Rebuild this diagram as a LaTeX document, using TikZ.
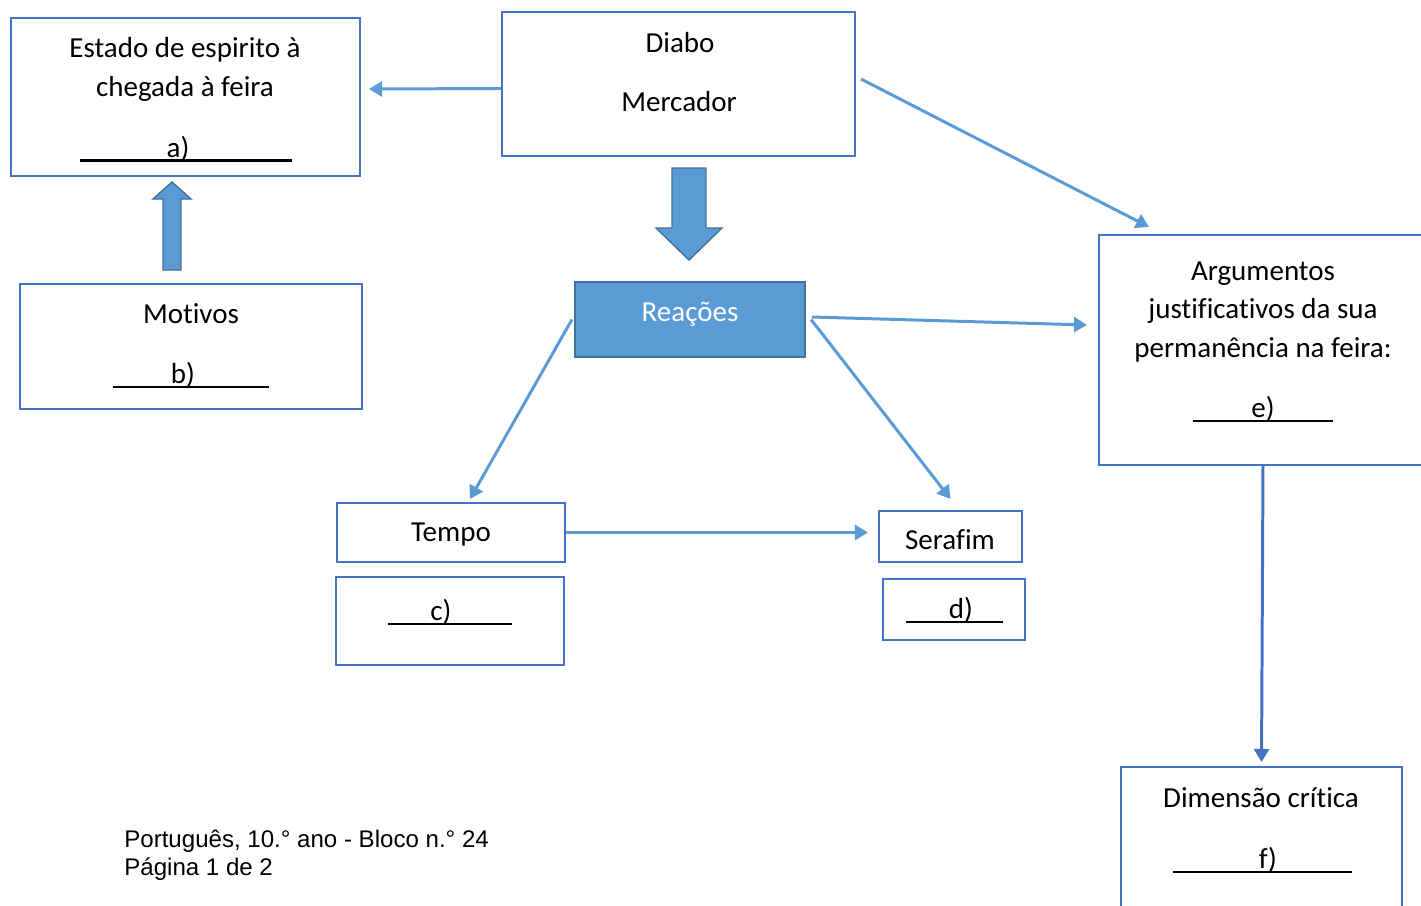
\documentclass[tikz,border=0pt]{standalone}
\usepackage{fontspec}
\setmainfont{Carlito}[Ligatures=NoCommon]
\newfontfamily\rodape{Liberation Sans}
\usetikzlibrary{arrows.meta}
\definecolor{azulcaixa}{HTML}{4472C4}
\definecolor{azulseta}{HTML}{5B9BD5}
\definecolor{azulescuro}{HTML}{41719C}
\tikzset{
    caixa/.style={
           rectangle,
           draw=azulcaixa, line width=1.2pt,
           inner sep=0pt,
           },
}
\tikzset{
    texto/.style={
           anchor=base,
           inner sep=0pt,
           font=\fontsize{16.5}{20}\selectfont,
           },
}
\tikzset{
    liga/.style={
           draw=azulseta, line width=1.7pt,
           -{Triangle[length=0.26cm,width=0.3cm]},
           },
}
\tikzset{
    setagrossa/.style={
           fill=azulseta, draw=azulescuro, line width=0.8pt,
           },
}
\tikzset{
    traco/.style={
           draw=black, line width=1.5pt,
           },
}

\begin{document}
\begin{tikzpicture}[x=0.02cm,y=-0.02cm]
\useasboundingbox (0,0) rectangle (1421,906);
\clip (0,0) rectangle (1421,906);
\node[caixa,minimum width=6.98cm,minimum height=3.16cm](estado) at (185.5,97){};
\node[caixa,minimum width=7.06cm,minimum height=2.88cm](diabo) at (678.5,84){};
\node[caixa,minimum width=6.84cm,minimum height=2.5cm](motivos) at (191,346.5){};
\node[caixa,fill=azulseta,draw=azulescuro,minimum width=4.6cm,minimum height=1.5cm](reacoes) at (690,319.5){};
\node[caixa,minimum width=6.56cm,minimum height=4.6cm](arg) at (1263,350){};
\node[caixa,minimum width=4.56cm,minimum height=1.18cm](tempo) at (451,532.5){};
\node[caixa,minimum width=2.86cm,minimum height=1.02cm](serafim) at (950.5,536.5){};
\node[caixa,minimum width=4.56cm,minimum height=1.76cm](caixac) at (450,621){};
\node[caixa,minimum width=2.84cm,minimum height=1.22cm](caixad) at (954,609.5){};
\node[caixa,minimum width=5.62cm,minimum height=3.2cm](dimensao) at (1261.5,847){};

\node[texto](estado1) at (185,57){Estado de espirito à};
\node[texto](estado2) at (185,96){chegada à feira};
\node[texto](ra) at (178,157){a)};
\node[texto](diabo1) at (680,52){Diabo};
\node[texto](diabo2) at (679,111){Mercador};
\node[texto](motivos1) at (191,323){Motivos};
\node[texto](rb) at (183,383){b)};
\node[texto,text=white](reacoes1) at (690,321.5){Reações};
\node[texto](arg1) at (1263,280){Argumentos};
\node[texto](arg2) at (1263,318){justificativos da sua};
\node[texto](arg3) at (1263,357){permanência na feira:};
\node[texto](re) at (1263,417){e)};
\node[texto](tempo1) at (451,541.5){Tempo};
\node[texto](serafim1) at (950,549){Serafim};
\node[texto](rc) at (441,620){c)};
\node[texto](rd) at (961,618){d)};
\node[texto](dim1) at (1261,807){Dimensão crítica};
\node[texto](rf) at (1268,868){f)};

\foreach \xa/\xb/\yy in {80/292/160.5,113/269/387,388/512/624,906/1003/622,1193/1333/421,1173/1352/872}
    \draw[traco] (\xa,\yy) -- (\xb,\yy);

\draw[setagrossa] (163,270) -- (181,270) -- (181,199) -- (191,199) -- (172,182) -- (153,199) -- (163,199) -- cycle;
\draw[setagrossa] (672,168) -- (706,168) -- (706,228) -- (722,228) -- (689,260) -- (656,228) -- (672,228) -- cycle;

\path[liga] ([yshift=-0.09cm]diabo.west) -- ([xshift=0.16cm,yshift=0.16cm]estado.east);
\path[liga] ([xshift=0.1cm,yshift=0.1cm]diabo.east) -- ([xshift=1.02cm,yshift=0.14cm]arg.north west);
\path[liga] ([xshift=0.12cm,yshift=0.05cm]reacoes.east) -- ([xshift=-0.22cm,yshift=0.5cm]arg.west);
\path[liga] ([xshift=-0.04cm]reacoes.west) -- ([xshift=0.38cm,yshift=0.06cm]tempo.north);
\path[liga] ([xshift=0.1cm]reacoes.east) -- ([yshift=0.22cm]serafim.north);
\path[liga,shorten >=0.2cm] (tempo.east) -- (serafim.west |- tempo.east);
\path[liga,draw=azulcaixa,shorten >=0.08cm] (arg.south) -- (dimensao.north);

\node[anchor=base west,inner sep=0pt,font=\rodape\fontsize{13.7}{16}\selectfont](rodape1) at (124,847){Português, 10.° ano - Bloco n.° 24};
\node[anchor=base west,inner sep=0pt,font=\rodape\fontsize{13.7}{16}\selectfont](rodape2) at (124,875){Página 1 de 2};
\end{tikzpicture}
\end{document}
